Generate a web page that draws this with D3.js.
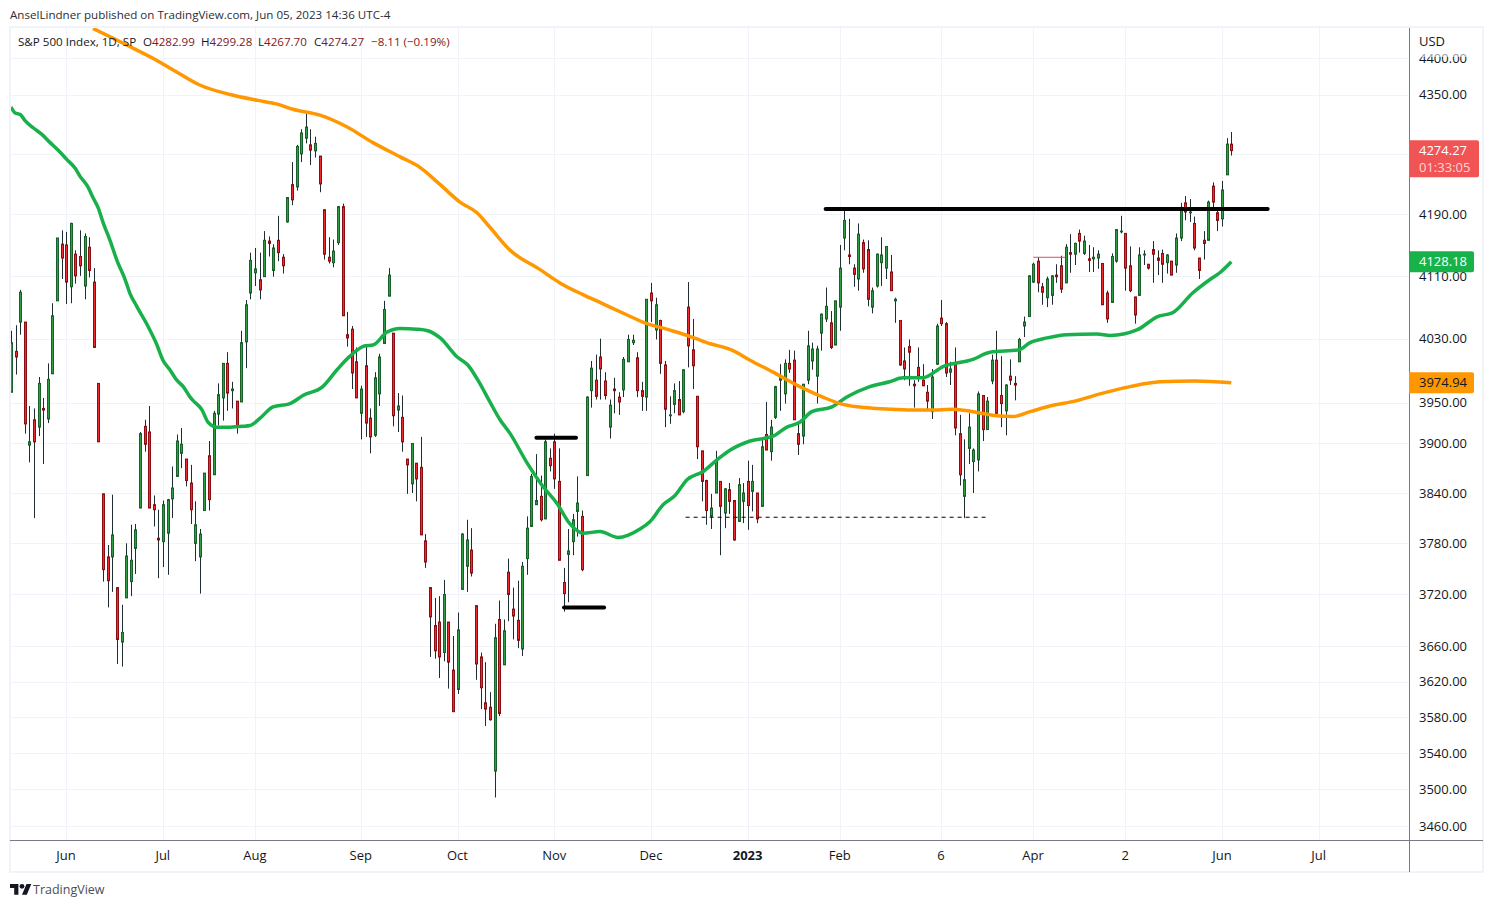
<!DOCTYPE html>
<html><head><meta charset="utf-8">
<script src="https://cdn.jsdelivr.net/npm/d3@7"></script>
<style>html,body{margin:0;padding:0;background:#fff}svg{display:block}text{font-family:"Open Sans",sans-serif}</style>
</head><body><svg id="c" width="1493" height="907"></svg>
<script>
const opens=[3963,4014,4051,4051,3898,3929,3920,3943,3930,3986,
4078,4151,4150,4096,4138,4135,4097,4147,4102,3974,
3839,3764,3764,3728,3665,3716,3735,3774,3822,3921,
3914,3826,3786,3782,3792,3833,3860,3888,3881,3852,
3780,3764,3819,3885,3862,3936,3956,3999,3965,3952,
3951,4026,4088,4114,4105,4109,4155,4117,4156,4134,
4180,4229,4226,4270,4291,4282,4274,4267,4196,4134,
4127,4153,4200,4035,4042,4001,3937,3996,3931,3910,
3961,4024,4084,4037,3941,3932,3881,3851,3876,3871,
3783,3728,3684,3688,3653,3688,3633,3611,3726,3753,
3772,3707,3648,3596,3591,3520,3691,3639,3746,3703,
3690,3657,3762,3800,3826,3836,3809,3882,3902,3854,
3734,3767,3782,3818,3812,3861,3965,3978,4007,3977,
3920,3967,3957,3966,4001,4025,4006,3965,3957,4088,
4041,4053,3997,3934,3948,3954,3939,4070,4016,3958,
3891,3855,3812,3840,3854,3816,3844,3831,3806,3830,
3854,3842,3840,3824,3911,3890,3932,3978,3961,3999,
4003,3912,3909,3978,4002,3983,4037,4055,4050,4022,
4070,4159,4137,4120,4106,4153,4144,4070,4097,4127,
4120,4115,4078,4053,4002,4020,3973,3994,3978,3963,
3939,3998,4056,4049,3988,3999,3912,3836,3894,3878,
3880,3959,3917,3977,4003,3959,3940,3983,3974,4001,
4046,4058,4102,4129,4096,4082,4085,4111,4123,4101,
4140,4138,4165,4139,4132,4132,4133,4126,4088,4076,
4129,4167,4165,4123,4083,4085,4137,4125,4144,4133,
4139,4127,4129,4124,4159,4205,4192,4178,4133,4156,
4156,4227,4192,4184,4242,4282.99];
const closes=[4025,4007,4089,3924,3902,3902,3974,3941,3979,4059,
4159,4133,4102,4178,4110,4123,4161,4117,4019,3902,
3749,3736,3790,3668,3676,3765,3760,3796,3912,3899,
3822,3820,3784,3826,3832,3846,3903,3899,3855,3820,
3802,3791,3864,3832,3937,3960,3999,3962,3967,3920,
4025,4073,4130,4119,4092,4156,4152,4146,4140,4123,
4212,4209,4280,4298,4306,4275,4284,4230,4138,4129,
4142,4200,4059,4031,3987,3956,3967,3925,3908,3981,
4007,4067,4111,3934,3946,3902,3874,3900,3857,3790,
3758,3694,3655,3648,3720,3642,3586,3679,3791,3784,
3745,3640,3613,3589,3577,3670,3584,3678,3720,3695,
3667,3753,3798,3860,3831,3808,3902,3873,3857,3760,
3721,3771,3808,3828,3749,3957,3993,3958,3992,3959,
3947,3965,3951,4004,4029,4028,3965,3958,4080,4078,
4073,3999,3942,3935,3965,3935,3991,4021,3996,3896,
3854,3819,3822,3879,3824,3845,3830,3784,3850,3840,
3825,3854,3809,3896,3892,3920,3970,3983,3999,3992,
3929,3899,3973,4021,4017,4017,4061,4071,4019,4078,
4120,4182,4135,4112,4164,4119,4080,4091,4138,4137,
4148,4091,4080,3997,3992,4013,3971,3983,3971,3952,
3982,4046,4049,3987,3992,3919,3862,3856,3920,3892,
3961,3917,3952,4003,3937,3949,3972,3978,3972,4029,
4051,4110,4125,4101,4089,4106,4110,4109,4093,4147,
4138,4152,4155,4155,4130,4134,4138,4073,4055,4135,
4170,4168,4120,4091,4060,4137,4138,4120,4138,4130,
4125,4137,4111,4159,4199,4193,4193,4146,4117,4152,
4206,4206,4182,4222,4283,4274.27];
const highs=[4040,4047,4092,4051,3946,3943,3982,3956,3999,4075,
4159,4169,4167,4179,4143,4169,4165,4160,4120,3974,
3839,3778,3838,3728,3708,3780,3802,3803,3914,3929,
3946,3837,3820,3831,3833,3872,3911,3919,3881,3874,
3830,3797,3864,3903,3940,3974,3999,4013,3976,3952,
4040,4079,4140,4146,4140,4168,4161,4151,4188,4138,
4212,4259,4282,4303,4326,4303,4293,4267,4196,4160,
4157,4201,4204,4064,4046,4019,3971,4020,3943,3988,
4011,4078,4120,4037,3962,3959,3881,3900,3876,3908,
3791,3728,3716,3718,3737,3688,3672,3699,3792,3808,
3798,3707,3653,3642,3608,3686,3713,3691,3762,3728,
3736,3758,3812,3863,3887,3861,3905,3894,3912,3894,
3751,3797,3815,3860,3819,3958,4002,4010,4030,3988,
3954,3981,3963,4007,4035,4035,4013,3976,4080,4101,
4082,4054,4002,3958,3974,3977,3991,4102,4055,3958,
3891,3856,3839,3891,3854,3846,3852,3831,3858,3852,
3879,3874,3840,3906,3951,3929,3971,3998,4004,4016,
4015,3925,3973,4040,4025,4021,4062,4095,4065,4078,
4150,4196,4184,4125,4178,4157,4156,4095,4139,4160,
4148,4137,4082,4053,4019,4029,3978,4019,3998,3972,
3992,4049,4079,4051,4001,4019,3935,3905,3937,3894,
3964,3959,3957,4010,4040,4008,3973,4004,3983,4031,
4058,4111,4127,4134,4101,4109,4111,4125,4136,4151,
4164,4153,4170,4162,4150,4147,4143,4126,4091,4139,
4170,4188,4165,4148,4083,4147,4143,4125,4155,4143,
4144,4138,4129,4165,4205,4214,4210,4187,4133,4168,
4208,4232,4197,4234,4291,4299.28];
const lows=[3963,3985,4035,3912,3877,3810,3909,3875,3925,3986,
4078,4106,4074,4075,4100,4110,4080,4108,4019,3902,
3735,3705,3723,3640,3637,3716,3718,3744,3822,3890,
3822,3800,3739,3752,3743,3810,3860,3870,3848,3803,
3759,3721,3819,3819,3862,3922,3928,3940,3943,3912,
3951,3993,4080,4097,4080,4109,4135,4109,4129,4113,
4179,4202,4221,4259,4284,4255,4265,4219,4131,4126,
4121,4150,4059,4020,3967,3956,3905,3908,3888,3908,
3946,4024,4084,3921,3914,3890,3839,3840,3830,3790,
3751,3648,3646,3624,3643,3612,3586,3606,3726,3723,
3741,3622,3589,3570,3576,3491,3581,3639,3689,3668,
3658,3649,3743,3800,3826,3806,3809,3866,3845,3760,
3700,3711,3766,3788,3747,3861,3944,3954,3954,3954,
3906,3937,3935,3957,4001,4022,3957,3940,3940,4051,
4029,3986,3920,3924,3937,3935,3937,3994,3967,3881,
3830,3802,3797,3840,3766,3798,3815,3783,3806,3804,
3796,3818,3804,3824,3892,3879,3930,3940,3949,3987,
3929,3886,3899,3973,3991,3949,4015,4051,4017,4022,
4040,4143,4125,4096,4091,4114,4071,4062,4095,4097,
4106,4091,4050,3996,3978,3971,3944,3976,3971,3940,
3930,3997,4046,3982,3972,3910,3849,3810,3875,3840,
3866,3903,3917,3973,3937,3920,3910,3972,3953,4001,
4032,4058,4101,4089,4073,4070,4073,4101,4088,4101,
4114,4124,4140,4137,4115,4115,4119,4073,4050,4076,
4127,4165,4091,4089,4049,4085,4124,4118,4101,4111,
4101,4113,4111,4114,4155,4182,4180,4143,4106,4131,
4156,4195,4168,4174,4242,4267.70];

const sma50Bars=[0,0.9,2,3,4.8,6.7,8.5,10.2,12.2,13.9,15,16.7,17.8,18.9,20,21.5,23,24.8,25.8,27.4,29.8,31.7,33,34.5,36,37.4,38.9,39.5,41.5,42.8,44.7,47.6,50.4,51.9,54.1,56.9,60.6,63.4,67.7,70.8,73.6,76.9,78.6,81.6,84.5,88.1,90.5,93.2,96.9,99.2,101.8,104,106.2,108.4,112,115.5,118.5,121.4,124.2,127.9,131.8,136.6,138.8,141.6,144.2,146.8,150.3,153.3,156.2,160.5,165.5,168.5,171.3,173.9,178.3,181.5,186.5,190.8,193.7,198,202.4,208.9,212.6,218.9,221.3,225,229.3,235.8,238.7,244.5,249,252.3,256.6,260.3,262.5,265];
const sma50Values=[4333,4325,4323,4315,4305,4296,4285,4275,4262,4251,4240,4226,4212,4199,4179,4156,4130,4105,4088,4070,4045,4022,4003,3991,3978,3970,3957,3953,3941,3926,3920,3920,3921,3922,3931,3945,3949,3959,3970,3991,4008,4021,4022,4038,4043,4042,4040,4031,4007,3997,3974,3951,3929,3912,3877,3848,3828,3803,3792,3794,3787,3797,3806,3826,3837,3856,3866,3880,3892,3903,3909,3920,3926,3939,3945,3957,3970,3976,3981,3981,3995,4004,4013,4016,4025,4031,4035,4036,4034,4041,4058,4063,4088,4105,4114,4128.18];
const sma200Bars=[17.8,24.8,31.3,36.7,41,47.6,53.6,57.8,61.2,67.1,73,78.6,84.5,88.8,93.2,97.5,101.2,104,108.4,114.9,119.2,124.2,127.9,133.8,137.2,142.4,147.4,151.1,156.8,160.5,165.5,171.3,176.3,180,183.7,188,191.5,194.6,199.6,204.6,208.9,214.1,217.6,221.3,225.6,231,236.5,243,249.5,257.1,265];
const sma200Values=[4441,4419,4398,4378,4363,4350,4342,4337,4330,4322,4306,4285,4266,4252,4229,4206,4192,4173,4143,4118,4101,4086,4076,4060,4051,4042,4033,4025,4015,4003,3988,3970,3957,3949,3945,3943,3942,3941,3941,3942,3939,3934,3933,3939,3946,3952,3961,3970,3976,3977,3974.94];

const gridPrices=[4400,4350,4270,4190,4110,4030,3950,3900,3840,3780,3720,3660,3620,3580,3540,3500,3460];
const priceTicks=[4400,4350,4190,4110,4030,3950,3900,3840,3780,3720,3660,3620,3580,3540,3500,3460];
const monthBars=[12,33,53,76,97,118,139,160,180,202,222,242,263,284];
const monthLabels=["Jun","Jul","Aug","Sep","Oct","Nov","Dec","2023","Feb","6","Apr","2","Jun","Jul"];
const legendLabels=["O","H","L","C"];
const legendValues=["4282.99","4299.28","4267.70","4274.27"];
const legendChange="\u22128.11 (\u22120.19%)";
const thickLevels=[{a:176.9,b:272.9,p:4197},{a:114.1,b:122.7,p:3907},{a:120.1,b:128.8,p:3705}];
const dashLevels=[{a:146.5,b:212.2,p:3811}];
const thinLevels=[{a:222,b:229,p:4134}];

const svg=d3.select("#c");
const x=d3.scaleLinear().domain([0,265]).range([11,1231.3]);
const y=d3.scaleLog().domain([3460,4400]).range([826,58]);
const px=i=>Math.round(x(i));
const L=10,R=1409,T=28,B=840;
const ink="#131722",grid="#f0f3fa",axisC="#787b86";

const defs=svg.append("defs");
defs.append("clipPath").attr("id","pane").append("rect").attr("x",L).attr("y",T).attr("width",R-L).attr("height",B-T);
const pane=svg.append("g").attr("clip-path","url(#pane)");

// grid
pane.append("g").selectAll("line").data(gridPrices).join("line").attr("x1",L).attr("x2",R)
 .attr("y1",d=>Math.round(y(d))+.5).attr("y2",d=>Math.round(y(d))+.5).attr("stroke",grid);
pane.append("g").selectAll("line").data(monthBars).join("line").attr("y1",T).attr("y2",B)
 .attr("x1",d=>px(d)+.5).attr("x2",d=>px(d)+.5).attr("stroke",grid);

// candles
const idx=d3.range(opens.length);
pane.append("g").selectAll("line").data(idx).join("line")
 .attr("x1",i=>px(i)+.5).attr("x2",i=>px(i)+.5).attr("y1",i=>y(highs[i])).attr("y2",i=>y(lows[i]))
 .attr("stroke","#1f2d33").attr("stroke-width",1);
pane.append("g").selectAll("rect").data(idx).join("rect")
 .attr("x",i=>px(i)-.5).attr("width",2)
 .attr("y",i=>y(Math.max(opens[i],closes[i])))
 .attr("height",i=>Math.max(.8,Math.abs(y(opens[i])-y(closes[i]))))
 .attr("fill",i=>closes[i]>=opens[i]?"#2f9e44":"#ee2b30")
 .attr("stroke",i=>closes[i]>=opens[i]?"#17602a":"#8c0c12").attr("stroke-width",1);

// moving averages
const ln=(bs)=>d3.line().x((d,i)=>x(bs[i])).y(d=>y(d)).curve(d3.curveMonotoneX);
pane.append("path").attr("d",ln(sma50Bars)(sma50Values)).attr("fill","none").attr("stroke","#18b04a").attr("stroke-width",3.5).attr("stroke-linejoin","round");
pane.append("path").attr("d",ln(sma200Bars)(sma200Values)).attr("fill","none").attr("stroke","#ff9800").attr("stroke-width",3.5).attr("stroke-linejoin","round");

// drawings
const seg=(g,data)=>g.selectAll("line").data(data).join("line")
 .attr("x1",d=>x(d.a)).attr("x2",d=>x(d.b)).attr("y1",d=>y(d.p)).attr("y2",d=>y(d.p));
seg(pane.append("g"),thickLevels).attr("stroke","#000").attr("stroke-width",4).attr("stroke-linecap","round");
seg(pane.append("g"),dashLevels).attr("stroke","#000").attr("stroke-width",1).attr("stroke-dasharray","4 4");
seg(pane.append("g"),thinLevels).attr("stroke","#e8475f").attr("stroke-width",1);

// frame
svg.append("rect").attr("x",10).attr("y",27).attr("width",1473).attr("height",845).attr("fill","none").attr("stroke",grid).attr("stroke-width",2);
svg.append("line").attr("x1",L).attr("x2",1483).attr("y1",840.5).attr("y2",840.5).attr("stroke",axisC);
svg.append("line").attr("x1",R+.5).attr("x2",R+.5).attr("y1",T).attr("y2",872).attr("stroke",axisC);

// axes
const yAxis=d3.axisRight(y).tickValues(priceTicks).tickFormat(d3.format(".2f")).tickSize(0).tickPadding(10);
const ya=svg.append("g").attr("transform",`translate(${R},0)`).call(yAxis);
ya.select(".domain").remove();
ya.selectAll("text").attr("font-family",'"Open Sans",sans-serif').attr("font-size",13).attr("fill",ink);
const xAxis=d3.axisBottom(x).tickValues(monthBars).tickFormat((d,i)=>monthLabels[i]).tickSize(0).tickPadding(11);
const xa=svg.append("g").attr("transform",`translate(-0.7,${B})`).call(xAxis);
xa.select(".domain").remove();
xa.selectAll("text").attr("font-family",'"Open Sans",sans-serif').attr("font-size",13).attr("fill",ink)
 .attr("font-weight",(d,i)=>monthLabels[i]==="2023"?700:400);

// USD header
svg.append("rect").attr("x",R+1).attr("y",T).attr("width",72).attr("height",25).attr("fill","#fff");
svg.append("rect").attr("x",R+1).attr("y",53).attr("width",72).attr("height",4).attr("fill","#fff").attr("opacity",.55);
svg.append("text").attr("x",1419).attr("y",46).attr("font-size",13).attr("fill",ink).text("USD");

// price tags
function tag(price,w,h,dy,fill,txt,color){
 const yy=y(price);
 svg.append("path").attr("d",`M${R} ${yy+dy}h${w-2}q2 0 2 2v${h-4}q0 2 -2 2h${-(w-2)}z`).attr("fill",fill);
 svg.append("text").attr("x",1419).attr("y",yy+dy+15).attr("font-size",13).attr("fill",color).text(txt);
}
tag(closes[265],70,37,-10.5,"#f05454",d3.format(".2f")(closes[265]),"#fff");
svg.append("text").attr("x",1419).attr("y",172).attr("font-size",13).attr("fill","#ffd5d5").text("01:33:05");
tag(sma50Values[sma50Values.length-1],65,21,-10.5,"#17b24a",d3.format(".2f")(sma50Values[sma50Values.length-1]),"#fff");
tag(sma200Values[sma200Values.length-1],65,21,-10.5,"#ff9800",d3.format(".2f")(sma200Values[sma200Values.length-1]),ink);

// header
svg.append("text").attr("x",10).attr("y",19).attr("font-size",11.6).attr("fill","#2a2e39").text("AnselLindner published on TradingView.com, Jun 05, 2023 14:36 UTC-4");
svg.append("text").attr("x",18).attr("y",46).attr("font-size",11.6).attr("fill",ink).text("S&P 500 Index, 1D, SP");
const legX=[143,201,258,314];
legendLabels.forEach((l,i)=>{
 const t=svg.append("text").attr("x",legX[i]).attr("y",46).attr("font-size",11.6).attr("fill",ink);
 t.append("tspan").text(l);
 t.append("tspan").attr("fill","#801922").text(legendValues[i]);
});
svg.append("text").attr("x",371).attr("y",46).attr("font-size",11.6).attr("fill","#801922").text(legendChange);

// footer
svg.append("g").attr("transform","translate(10,881.5) scale(.6)").attr("fill","#131722").call(g=>{
 g.append("path").attr("d","M14 22H7V11H0V4h14v18zM28 22h-8l7.5-18h8L28 22z");
 g.append("circle").attr("cx",20).attr("cy",8).attr("r",4);
});
svg.append("text").attr("x",33).attr("y",894).attr("font-size",12.5).attr("fill","#4a4e57").text("TradingView");
</script></body></html>
